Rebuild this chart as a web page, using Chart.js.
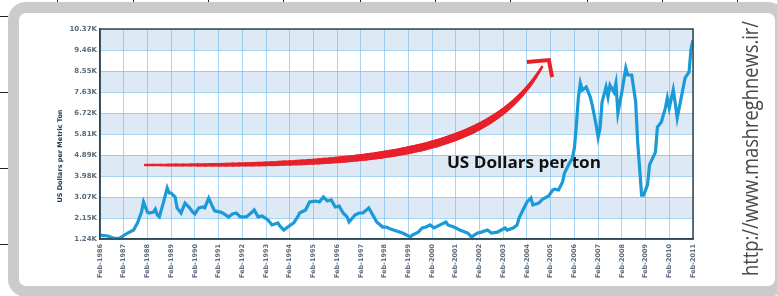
<!DOCTYPE html>
<html lang="en">
<head>
<meta charset="UTF-8">
<title>US Dollars per Metric Ton</title>
<script src="https://cdn.jsdelivr.net/npm/chart.js"></script>
<style>
  body {
    margin: 0;
    width: 777px;
    height: 296px;
    overflow: hidden;
    background: #fff;
    position: relative;
    font-family: 'DejaVu Sans', sans-serif;
  }
  .tick-top { position: absolute; top: 0; width: 1px; height: 4px; background: #222; }
  .tick-left { position: absolute; left: 0; width: 8px; height: 1px; background: #222; }
  .frame {
    position: absolute;
    left: 8px; top: 2px;
    width: 778px; height: 295px;
    box-sizing: border-box;
    border: 11px solid #cbcbcb;
    border-radius: 18px;
    background: #fff;
  }
  #priceChart { position: absolute; left: 0; top: 0; }
  .watermark { position: absolute; left: 0; top: 0; }
</style>
</head>
<body>
  <div class="tick-top" style="left:57px"></div>
  <div class="tick-top" style="left:133px"></div>
  <div class="tick-top" style="left:208px"></div>
  <div class="tick-top" style="left:283px"></div>
  <div class="tick-top" style="left:360px"></div>
  <div class="tick-top" style="left:435px"></div>
  <div class="tick-top" style="left:510px"></div>
  <div class="tick-top" style="left:587px"></div>
  <div class="tick-top" style="left:662px"></div>
  <div class="tick-top" style="left:737px"></div>
  <div class="tick-left" style="top:16px"></div>
  <div class="tick-left" style="top:92px"></div>
  <div class="tick-left" style="top:168px"></div>
  <div class="tick-left" style="top:244px"></div>

  <div class="frame"></div>

  <canvas id="priceChart" width="777" height="296"></canvas>

  <svg class="watermark" width="777" height="296">
    <text transform="translate(758,276) rotate(-90)" textLength="255" lengthAdjust="spacingAndGlyphs"
          font-family="Open Sans, sans-serif" font-size="22" fill="#4a4a4a">http://www.mashreghnews.ir/</text>
  </svg>

<script>
// months since Feb-1986
const months = [0,4,7,10,14,17,19,21,22,24,25,27,28,29,30,32,34,35,36,38,39,41,43,45,47,48,50,52,53,55,57,58,61,62,65,67,69,71,74,77,78,80,82,85,87,90,91,93,95,98,100,101,104,106,109,111,113,115,117,119,121,123,125,126,129,131,133,136,138,140,143,145,147,150,153,157,158,161,163,165,167,169,171,175,176,179,182,186,188,191,193,196,198,201,203,205,206,209,211,212,214,216,218,219,222,224,227,229,230,232,234,235,237,239,240,241,242,243,244,246,248,249,251,252,253,254,256,257,258,260,261,262,264,266,267,269,271,272,274,275,277,278,281,282,284,286,287,288,290,291,292,294,296,298,299,300];

// price in thousand US dollars per metric ton
const prices = [1.41,1.37,1.27,1.28,1.5,1.63,1.94,2.41,2.85,2.41,2.37,2.41,2.54,2.28,2.2,2.8,3.46,3.24,3.24,3.07,2.59,2.37,2.8,2.63,2.41,2.33,2.59,2.63,2.59,3.02,2.63,2.46,2.41,2.37,2.2,2.33,2.37,2.2,2.2,2.41,2.5,2.2,2.24,2.07,1.85,1.94,1.81,1.63,1.76,1.94,2.2,2.37,2.5,2.85,2.89,2.85,3.07,2.89,2.94,2.63,2.67,2.37,2.2,1.98,2.28,2.37,2.37,2.59,2.28,1.98,1.76,1.76,1.67,1.59,1.5,1.33,1.41,1.54,1.72,1.76,1.85,1.72,1.81,1.98,1.85,1.76,1.63,1.5,1.33,1.5,1.54,1.63,1.5,1.54,1.63,1.72,1.63,1.72,1.85,2.15,2.5,2.85,3.02,2.72,2.8,2.98,3.11,3.37,3.41,3.37,3.72,4.11,4.46,4.76,5.2,6.2,7.37,8.02,7.72,7.85,7.42,7.07,6.2,5.67,6.07,7.2,7.85,7.42,7.93,7.63,8.02,6.72,7.63,8.67,8.37,8.37,7.2,5.46,3.15,3.15,3.59,4.46,5.02,6.11,6.33,6.93,7.37,6.93,7.72,7.15,6.5,7.37,8.24,8.5,9.5,9.89];

const startYear = 1986;
const yTickLabels = ['1.24K','2.15K','3.07K','3.98K','4.89K','5.81K','6.72K','7.63K','8.55K','9.46K','10.37K'];
const yMin = 1.24;
const yStep = 0.913;

// annotation arrow, in data units (month, price)
const arrowCurve = [[22.8, 4.46], [141.7, 4.41], [197.3, 4.89], [223.6, 8.72]];
const arrowHead = [[216.0, 8.94], [227.1, 9.02], [228.7, 8.28]];
const noteText = 'US Dollars per ton';
const noteAnchor = [175.5, 4.33];

const decor = {
  id: 'decor',
  beforeDraw(chart) {
    const { ctx, chartArea: a, scales: { y } } = chart;
    ctx.save();
    ctx.fillStyle = '#dde9f5';
    for (let i = 1; i < yTickLabels.length - 1; i += 2) {
      const top = y.getPixelForValue(yMin + (i + 1) * yStep);
      const bot = y.getPixelForValue(yMin + i * yStep);
      ctx.fillRect(a.left, top, a.right - a.left, bot - top);
    }
    ctx.restore();
  },
  beforeDatasetsDraw(chart) {
    const { ctx, scales: { x, y } } = chart;
    const P = arrowCurve.map(p => [x.getPixelForValue(p[0]), y.getPixelForValue(p[1])]);
    const bez = (t, k) => {
      const u = 1 - t;
      return u*u*u*P[0][k] + 3*u*u*t*P[1][k] + 3*u*t*t*P[2][k] + t*t*t*P[3][k];
    };
    ctx.save();
    ctx.strokeStyle = '#e8202a';
    ctx.lineCap = 'round';
    const n = 90;
    for (let i = 0; i < n; i++) {
      const t0 = i / n, t1 = (i + 1) / n;
      const tm = (t0 + t1) / 2;
      ctx.lineWidth = 2.5 + 5.5 * Math.sin(Math.PI * Math.pow(tm, 1.2));
      ctx.beginPath();
      ctx.moveTo(bez(t0, 0), bez(t0, 1));
      ctx.lineTo(bez(t1, 0), bez(t1, 1));
      ctx.stroke();
    }
    const H = arrowHead.map(p => [x.getPixelForValue(p[0]), y.getPixelForValue(p[1])]);
    ctx.lineWidth = 4;
    ctx.lineJoin = 'miter';
    ctx.lineCap = 'butt';
    ctx.beginPath();
    ctx.moveTo(H[0][0], H[0][1]);
    ctx.lineTo(H[1][0], H[1][1]);
    ctx.lineTo(H[2][0], H[2][1]);
    ctx.stroke();

    // note text
    const tx = x.getPixelForValue(noteAnchor[0]);
    const ty = y.getPixelForValue(noteAnchor[1]);
    ctx.font = 'bold 15.5px "Open Sans", sans-serif';
    ctx.fillStyle = '#111';
    ctx.textBaseline = 'alphabetic';
    const w = ctx.measureText(noteText).width;
    ctx.translate(tx, ty);
    ctx.scale(154 / w, 1);
    ctx.fillText(noteText, 0, 0);
    ctx.restore();
  },
  afterDraw(chart) {
    const { ctx, chartArea: a } = chart;
    ctx.save();
    ctx.strokeStyle = '#2e4753';
    ctx.lineWidth = 1.5;
    ctx.strokeRect(a.left, a.top, a.right - a.left, a.bottom - a.top);
    ctx.translate(a.left - 40, a.bottom - 83);
    ctx.rotate(-Math.PI / 2);
    ctx.font = 'bold 6.5px "DejaVu Sans", sans-serif';
    ctx.fillStyle = '#203a55';
    ctx.textAlign = 'center';
    ctx.textBaseline = 'middle';
    ctx.fillText('US Dollars per Metric Ton', 0, 0);
    ctx.restore();
  }
};

const tickFont = { family: 'DejaVu Sans', weight: 'bold' };

new Chart(document.getElementById('priceChart'), {
  type: 'line',
  data: {
    datasets: [{
      data: months.map((m, i) => ({ x: m, y: prices[i] })),
      borderColor: '#1a9ad8',
      borderWidth: 3.2,
      pointRadius: 0,
      tension: 0,
      fill: false
    }]
  },
  options: {
    responsive: false,
    animation: false,
    layout: { padding: { top: 29, right: 84, left: 0, bottom: 0 } },
    plugins: { legend: { display: false }, tooltip: { enabled: false } },
    scales: {
      x: {
        type: 'linear',
        min: 0,
        max: 300,
        afterBuildTicks: s => {
          const t = [];
          for (let v = 0; v <= 300; v += 12) t.push({ value: v });
          s.ticks = t;
        },
        afterFit: s => { s.height = 57; },
        ticks: {
          autoSkip: false,
          minRotation: 90,
          maxRotation: 90,
          padding: 5,
          color: '#5b6b7b',
          font: { ...tickFont, size: 6.5 },
          callback: v => 'Feb-' + (startYear + v / 12)
        },
        grid: { color: 'rgba(110,185,235,0.6)', drawTicks: false },
        border: { color: '#2e4753', width: 1.5 }
      },
      y: {
        min: yMin,
        max: yMin + yStep * (yTickLabels.length - 1),
        afterBuildTicks: s => {
          s.ticks = yTickLabels.map((_, i) => ({ value: yMin + i * yStep }));
        },
        afterFit: s => { s.width = 100; },
        ticks: {
          padding: 3,
          color: '#5b6b7b',
          font: { ...tickFont, size: 7 },
          callback: (v, i) => yTickLabels[i]
        },
        grid: { color: 'rgba(110,185,235,0.6)', drawTicks: false },
        border: { color: '#2e4753', width: 1.5 }
      }
    }
  },
  plugins: [decor]
});
</script>
</body>
</html>
